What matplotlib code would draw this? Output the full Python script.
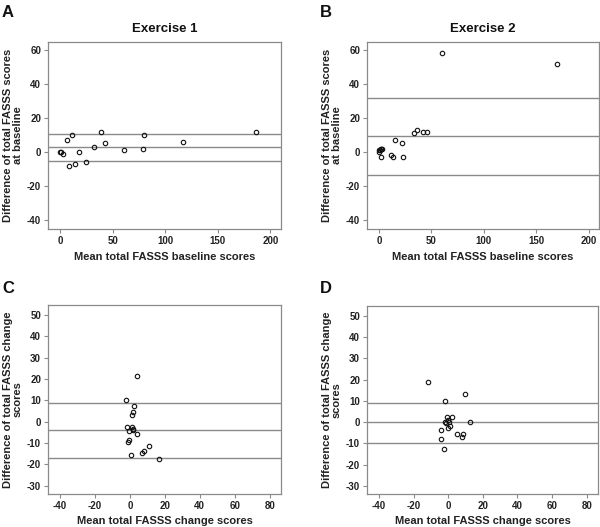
import matplotlib
matplotlib.use('Agg')
import matplotlib.pyplot as plt

plt.rcParams['font.family'] = ['Liberation Sans', 'DejaVu Sans']
plt.rcParams['font.weight'] = 'bold'
plt.rcParams['axes.unicode_minus'] = False

# Panel A: Exercise 1, baseline
a_mean = [0, 1, 2.5, 6.3, 11.7, 8.9, 14.6, 17.8, 25, 32.4, 38.7, 43, 61, 78.7, 79.7, 117, 186]
a_diff = [0, 0, -1, 7, 10, -8, -7, 0, -6, 3, 12, 5, 1, 2, 10, 6, 12]
a_lines = [10.4, 2.7, -5.3]

# Panel B: Exercise 2, baseline
b_mean = [60, 170, 33.3, 36.2, 41.9, 46, 15.6, 21.6, 22.9, 11.7, 13.7, 0, 1, 1.6, 2.9, 1.9, 0.3, 2.2]
b_diff = [58, 52, 11, 13, 12, 12, 7, 5, -3, -2, -3, 0, 1, 2, 2, -3, 1, 1.5]
b_lines = [31.6, 9.2, -13.3]

# Panel C: Exercise 1, change
c_mean = [4.2, -2.1, 2.3, 1.9, 1.1, -1.7, 1.3, 1.9, -0.4, 3.8, -0.6, -1.3, 10.9, 7.8, 7.2, 0.8, 16.8, 1.6]
c_diff = [21.3, 10.2, 7.3, 4.4, 3.3, -2.5, -2.5, -3.4, -4.5, -5.6, -8.6, -9.7, -11.6, -13.6, -14.5, -15.5, -17.5, -4]
c_lines = [8.9, -3.9, -16.8]

# Panel D: Exercise 2, change
d_mean = [-11.4, -1.7, 9.6, 12.3, -0.8, 2.3, -1.7, -0.2, 0.4, 1.3, -0.2, -3.9, -3.9, 5.2, 8.3, 7.9, -2.3, -1]
d_diff = [19, 10.1, 13.1, 0, 2.2, 2.2, 0, 0.9, 0, -1.9, -3, -3.9, -8, -5.8, -5.8, -6.9, -12.9, -0.5]
d_lines = [9, 0, -9.9]

W, H = 600, 527
fig = plt.figure(figsize=(W / 100, H / 100), dpi=100)

def px_axes(x0, y0, x1, y1):
    return fig.add_axes([x0 / W, 1 - y1 / H, (x1 - x0) / W, (y1 - y0) / H])

frame = '#8a8a8a'

def style(ax, xlim, ylim, xticks, yticks, xlabel, ylabel):
    ax.set_xlim(xlim)
    ax.set_ylim(ylim)
    ax.set_xticks(xticks)
    ax.set_yticks(yticks)
    ax.tick_params(axis='both', direction='out', length=3, width=0.8, color=frame,
                   labelsize=7, labelcolor='#222222', pad=2)
    for spine in ax.spines.values():
        spine.set_color(frame)
        spine.set_linewidth(0.9)
    ax.set_xlabel(xlabel, fontsize=8, fontweight='bold', color='#222222', labelpad=4)
    ax.set_ylabel(ylabel, fontsize=8, fontweight='bold', color='#222222', labelpad=3,
                  linespacing=0.95)

panels = [
    ((48, 42, 281, 229), a_mean, a_diff, a_lines, 'A', 'Exercise 1'),
    ((367, 42, 599, 229), b_mean, b_diff, b_lines, 'B', 'Exercise 2'),
    ((48, 305, 281, 494), c_mean, c_diff, c_lines, 'C', None),
    ((367, 306, 598, 494), d_mean, d_diff, d_lines, 'D', None),
]

for i, (box, xm, yd, lines, letter, title) in enumerate(panels):
    ax = px_axes(*box)
    for y in lines:
        ax.axhline(y, color='#8a8a8a', linewidth=1.0, zorder=1)
    ax.plot(xm, yd, 'o', markersize=3.2, markerfacecolor='none',
            markeredgecolor='#111111', markeredgewidth=0.8, zorder=3)
    if i < 2:
        style(ax, (-11.4, 210), (-45.3, 64.7), [0, 50, 100, 150, 200],
              [-40, -20, 0, 20, 40, 60], 'Mean total FASSS baseline scores',
              'Difference of total FASSS scores\nat baseline')
    else:
        style(ax, (-46.9, 86.5), (-33.9, 54.7), [-40, -20, 0, 20, 40, 60, 80],
              [-30, -20, -10, 0, 10, 20, 30, 40, 50], 'Mean total FASSS change scores',
              'Difference of total FASSS change\nscores')
    if title:
        ax.set_title(title, fontsize=9.5, fontweight='bold', color='#111111', pad=7)
    lx = 2 if box[0] < 300 else 320
    ly = 5 if box[1] < 300 else 281
    fig.text(lx / W, 1 - ly / H, letter, fontsize=12, fontweight='bold',
             ha='left', va='top', color='#111111')

fig.savefig('out.png', dpi=100)
